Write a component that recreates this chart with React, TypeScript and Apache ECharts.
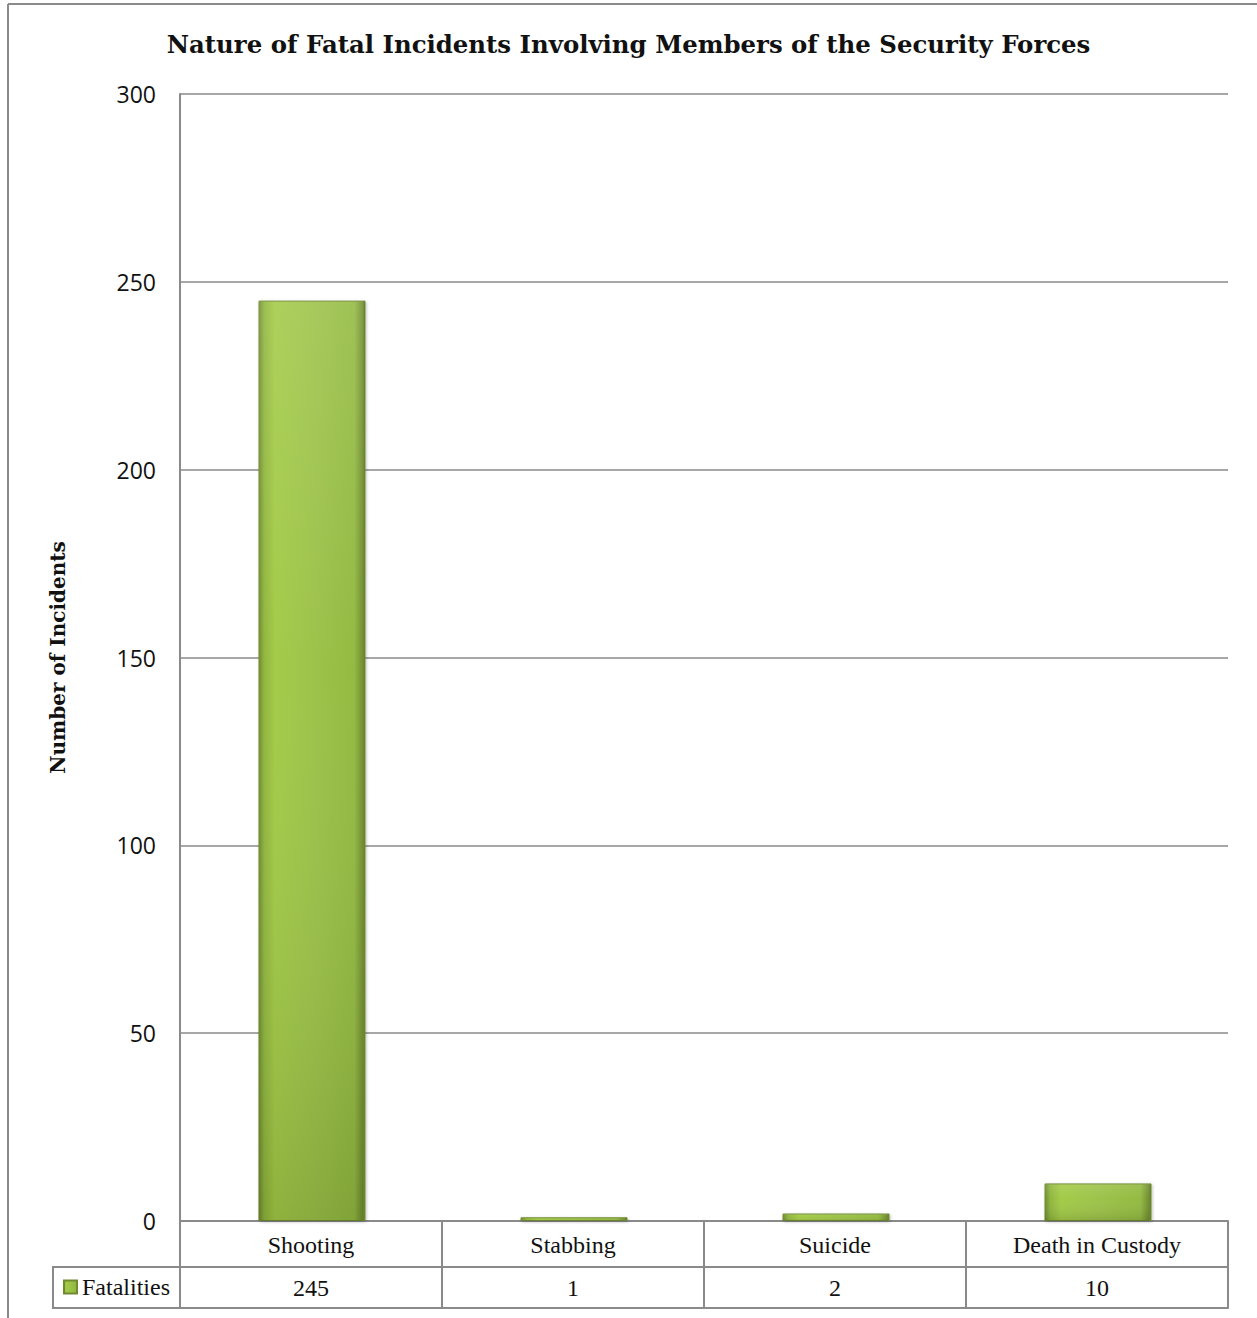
import React, { useEffect, useRef } from "react";
import * as echarts from "echarts";

const categories = ["Shooting", "Stabbing", "Suicide", "Death in Custody"];
const fatalities = [245, 1, 2, 10];
const yTicks = [0, 50, 100, 150, 200, 250, 300];
const seriesName = "Fatalities";
const titleText = "Nature of Fatal Incidents Involving Members of the Security Forces";
const yAxisName = "Number of Incidents";

const GRAY = "#8a8a8a";
const SERIF = "'Liberation Serif', 'DejaVu Serif', serif";
const BOLDSERIF = "'DejaVu Serif', 'Liberation Serif', serif";
const SANS = "'Open Sans', 'Liberation Sans', sans-serif";

export default function App() {
  const ref = useRef<HTMLDivElement>(null);
  useEffect(() => {
    document.body.style.margin = "0";
    if (!ref.current) return;
    const chart = echarts.init(ref.current, null, { renderer: "svg" });
    const hGrad = new echarts.graphic.LinearGradient(0, 0, 1, 0, [
      { offset: 0, color: "#6f8c2c" },
      { offset: 0.05, color: "#8fb53c" },
      { offset: 0.15, color: "#a2ca45" },
      { offset: 0.5, color: "#9cc247" },
      { offset: 0.9, color: "#92b93f" },
      { offset: 1, color: "#66812a" },
    ]);
    const vShade = new echarts.graphic.LinearGradient(0, 0, 0, 1, [
      { offset: 0, color: "rgba(255,255,255,0.12)" },
      { offset: 0.4, color: "rgba(255,255,255,0.02)" },
      { offset: 1, color: "rgba(0,0,0,0.12)" },
    ]);
    chart.setOption({
      animation: false,
      backgroundColor: "#ffffff",
      title: {
        text: titleText,
        left: "center",
        top: 27,
        textStyle: { fontFamily: BOLDSERIF, fontWeight: "bold", fontSize: 24.4, color: "#111" },
      },
      legend: {
        data: [seriesName],
        left: 58,
        top: 1270,
        itemWidth: 13,
        itemHeight: 13,
        itemGap: 4,
        icon: "rect",
        textStyle: { fontFamily: SERIF, fontSize: 24, color: "#111" },
      },
      grid: { left: 180, top: 94, right: 29, bottom: 97, containLabel: false },
      xAxis: [
        {
          type: "category",
          data: categories,
          position: "bottom",
          axisLine: { show: true, lineStyle: { color: GRAY, width: 2 } },
          axisTick: { show: true, length: 46, lineStyle: { color: GRAY, width: 2 } },
          axisLabel: { margin: 12, fontFamily: SERIF, fontSize: 24, color: "#111" },
          splitLine: { show: false },
        },
        {
          type: "category",
          data: fatalities.map((v) => String(v)),
          position: "bottom",
          offset: 46,
          axisLine: { show: true, lineStyle: { color: GRAY, width: 2 } },
          axisTick: { show: true, length: 41, lineStyle: { color: GRAY, width: 2 } },
          axisLabel: { margin: 9, fontFamily: SERIF, fontSize: 24, color: "#111" },
        },
        {
          type: "category",
          data: categories,
          position: "bottom",
          offset: 87,
          axisLine: { show: true, lineStyle: { color: GRAY, width: 2 } },
          axisTick: { show: false },
          axisLabel: { show: false },
        },
      ],
      yAxis: {
        type: "value",
        min: 0,
        max: 300,
        interval: 50,
        name: yAxisName,
        nameLocation: "middle",
        nameGap: 112,
        nameTextStyle: { fontFamily: BOLDSERIF, fontWeight: "bold", fontSize: 20, color: "#111" },
        axisLine: { show: true, lineStyle: { color: GRAY, width: 2 } },
        axisTick: { show: false },
        axisLabel: {
          margin: 24,
          fontFamily: SANS,
          fontSize: 23,
          color: "#111",
          formatter: (v: number) => (yTicks.includes(v) ? String(v) : ""),
        },
        splitLine: { show: true, lineStyle: { color: GRAY, width: 1.5 } },
      },
      series: [
        {
          name: seriesName,
          type: "bar",
          data: fatalities,
          barWidth: 107,
          itemStyle: {
            color: hGrad,
            borderColor: "#6f8a30",
            borderWidth: 1,
            shadowColor: "rgba(0,0,0,0.25)",
            shadowBlur: 3,
            shadowOffsetX: 1,
            shadowOffsetY: 1,
          },
        },
        {
          name: "shade",
          type: "bar",
          data: fatalities,
          barWidth: 105,
          barGap: "-100%",
          silent: true,
          itemStyle: { color: vShade },
          legendHoverLink: false,
        },
      ],
      graphic: [
        {
          type: "line",
          shape: { x1: 8, y1: 4, x2: 1257, y2: 4 },
          style: { stroke: GRAY, lineWidth: 2 },
        },
        {
          type: "line",
          shape: { x1: 8, y1: 4, x2: 8, y2: 1318 },
          style: { stroke: GRAY, lineWidth: 2 },
        },
        {
          type: "rect",
          shape: { x: 53, y: 1267, width: 127, height: 41 },
          style: { fill: "none", stroke: GRAY, lineWidth: 2 },
          z: -1,
        },
      ],
    });
    return () => chart.dispose();
  }, []);
  return <div ref={ref} style={{ width: 1257, height: 1318 }} />;
}
